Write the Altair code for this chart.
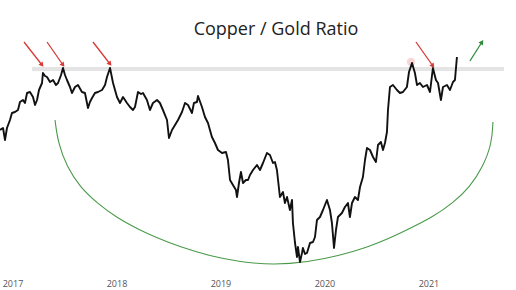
import altair as alt
import pandas as pd

# ---- data (time in decimal years, level in chart units) ----
t = [2017.375, 2017.404, 2017.423, 2017.442, 2017.471, 2017.490, 2017.519, 2017.548, 2017.567, 2017.596,
     2017.615, 2017.635, 2017.663, 2017.692, 2017.712, 2017.731, 2017.750, 2017.779, 2017.788, 2017.808,
     2017.827, 2017.856, 2017.885, 2017.913, 2017.933, 2017.962, 2017.981, 2018.000, 2018.019, 2018.048,
     2018.067, 2018.096, 2018.125, 2018.163, 2018.192, 2018.221, 2018.240, 2018.260, 2018.288, 2018.317,
     2018.356, 2018.385, 2018.404, 2018.433, 2018.462, 2018.500, 2018.529, 2018.558, 2018.596, 2018.625,
     2018.654, 2018.673, 2018.702, 2018.731, 2018.750, 2018.788, 2018.817, 2018.846, 2018.885, 2018.913,
     2018.942, 2018.981, 2019.000, 2019.029, 2019.058, 2019.087, 2019.125, 2019.154, 2019.183, 2019.221,
     2019.240, 2019.269, 2019.279, 2019.317, 2019.346, 2019.375, 2019.413, 2019.442, 2019.471, 2019.510,
     2019.548, 2019.567, 2019.587, 2019.615, 2019.644, 2019.654, 2019.673, 2019.692, 2019.712, 2019.740,
     2019.760, 2019.779, 2019.808, 2019.846, 2019.875, 2019.904, 2019.942, 2019.971, 2020.000, 2020.019,
     2020.038, 2020.067, 2020.096, 2020.115, 2020.135, 2020.163, 2020.183, 2020.192, 2020.212, 2020.231,
     2020.240, 2020.260, 2020.279, 2020.288, 2020.308, 2020.327, 2020.356, 2020.385, 2020.404, 2020.423,
     2020.452, 2020.481, 2020.519, 2020.548, 2020.567, 2020.587, 2020.606, 2020.625, 2020.663, 2020.692,
     2020.721, 2020.740, 2020.760, 2020.788, 2020.817, 2020.837, 2020.865, 2020.885, 2020.904, 2020.933,
     2020.962, 2020.990, 2021.010, 2021.038, 2021.058, 2021.077, 2021.096, 2021.106, 2021.125, 2021.154,
     2021.192, 2021.221, 2021.250, 2021.288, 2021.308, 2021.337, 2021.365, 2021.385, 2021.413, 2021.442,
     2021.481, 2021.510, 2021.538, 2021.567, 2021.587, 2021.615, 2021.635, 2021.673, 2021.702, 2021.731,
     2021.750, 2021.769]
level = [147, 149, 137, 149, 157, 164, 165, 167, 175, 177,
         174, 184, 185, 180, 172, 177, 187, 194, 204, 201,
         200, 195, 197, 192, 194, 202, 209, 202, 197, 190,
         184, 190, 192, 185, 184, 169, 175, 179, 184, 185,
         187, 192, 200, 209, 194, 180, 174, 180, 174, 170,
         167, 170, 185, 183, 184, 177, 167, 174, 177, 174,
         167, 157, 139, 147, 152, 157, 165, 174, 172, 164,
         174, 175, 181, 170, 160, 154, 140, 134, 127, 124,
         125, 117, 97, 92, 87, 80, 94, 105, 94, 97,
         97, 102, 107, 112, 107, 114, 124, 122, 114, 115,
         107, 80, 85, 74, 80, 67, 77, 54, 34, 20,
         30, 15, 24, 29, 23, 24, 34, 35, 40, 57,
         60, 67, 77, 67, 54, 29, 47, 60, 64, 70,
         74, 60, 74, 80, 77, 90, 100, 117, 129, 127,
         120, 115, 132, 135, 127, 134, 145, 167, 190, 192,
         187, 184, 185, 190, 205, 214, 204, 192, 194, 190,
         192, 185, 209, 197, 194, 177, 190, 192, 187, 195,
         197, 220]

# resistance band
band_t = [2017.683]
band_t2 = [2022.221]
band_level = [208]

# rounded-bottom arc
arc_t = [2017.904, 2017.933, 2018.019, 2018.144, 2018.308, 2018.500, 2018.721, 2018.865, 2019.106,
         2019.394, 2019.683, 2020.010, 2020.337, 2020.625, 2020.913, 2021.106, 2021.288, 2021.538,
         2021.731, 2021.894, 2022.019, 2022.106, 2022.115]
arc_level = [157, 134, 110, 90, 74, 59, 47, 40, 30, 21, 15, 12, 15, 21, 30, 38, 47, 60, 74, 90, 110, 134, 155]

# arrows (start -> end)
red_t1 = [2017.606, 2017.827, 2018.269, 2021.375]
red_l1 = [235, 235, 235, 235]
red_t2 = [2017.779, 2017.981, 2018.433, 2021.538]
red_l2 = [212, 212, 213, 211]
green_t1 = [2021.894]
green_l1 = [216]
green_t2 = [2022.010]
green_l2 = [235]

highlight_t = [2021.327]
highlight_l = [215]

years = ["2017", "2018", "2019", "2020", "2021"]
year_mid = [2017.5, 2018.5, 2019.5, 2020.5, 2021.5]
year_starts = [2018, 2019, 2020, 2021, 2022]

title_text = "Copper / Gold Ratio"

# ---- chart ----
xs = alt.Scale(domain=[2017.375, 2022.337], nice=False, zero=False)
ys = alt.Scale(domain=[0, 277], nice=False, zero=False)
FONT = "Open Sans"

df = pd.DataFrame({"t": t, "level": level})
band_df = pd.DataFrame({"t": band_t, "t2": band_t2, "level": band_level})
arc_df = pd.DataFrame({"t": arc_t, "level": arc_level, "i": range(len(arc_t))})
red_df = pd.DataFrame({"t": red_t1, "l": red_l1, "t2": red_t2, "l2": red_l2})
green_df = pd.DataFrame({"t": green_t1, "l": green_l1, "t2": green_t2, "l2": green_l2})
hl_df = pd.DataFrame({"t": highlight_t, "l": highlight_l})
yr_df = pd.DataFrame({"year": years, "t": year_mid})
title_df = pd.DataFrame({"txt": [title_text]})

band = alt.Chart(band_df).mark_rule(color="#e4e4e4", strokeWidth=4).encode(
    x=alt.X("t:Q", scale=xs, axis=None), x2="t2:Q",
    y=alt.Y("level:Q", scale=ys, axis=None))

arc = alt.Chart(arc_df).mark_line(color="#4a9a4a", strokeWidth=1.1, interpolate="basis").encode(
    x=alt.X("t:Q", scale=xs, axis=None),
    y=alt.Y("level:Q", scale=ys, axis=None),
    order="i:Q")

hl = alt.Chart(hl_df).mark_circle(color="#f0b4b4", opacity=0.55, size=70).encode(
    x=alt.X("t:Q", scale=xs, axis=None), y=alt.Y("l:Q", scale=ys, axis=None))

line = alt.Chart(df).mark_line(color="#111111", strokeWidth=1.9, strokeJoin="round").encode(
    x=alt.X("t:Q", scale=xs, title=None,
            axis=alt.Axis(values=year_starts, labels=False, grid=False, tickSize=13,
                          tickColor="#e6e6e6", domainColor="#e6e6e6", tickWidth=1, domainWidth=1)),
    y=alt.Y("level:Q", scale=ys, axis=None))

red_shaft = alt.Chart(red_df).mark_rule(color="#d63a36", strokeWidth=1.3).encode(
    x=alt.X("t:Q", scale=xs, axis=None), x2="t2:Q",
    y=alt.Y("l:Q", scale=ys, axis=None), y2="l2:Q")
red_head = alt.Chart(red_df).mark_point(shape="triangle-up", filled=True, color="#d63a36",
                                         size=28, opacity=1, angle=142).encode(
    x=alt.X("t2:Q", scale=xs, axis=None), y=alt.Y("l2:Q", scale=ys, axis=None))

green_shaft = alt.Chart(green_df).mark_rule(color="#2e8b3a", strokeWidth=1.3).encode(
    x=alt.X("t:Q", scale=xs, axis=None), x2="t2:Q",
    y=alt.Y("l:Q", scale=ys, axis=None), y2="l2:Q")
green_head = alt.Chart(green_df).mark_point(shape="triangle-up", filled=True, color="#2e8b3a",
                                             size=28, opacity=1, angle=34).encode(
    x=alt.X("t2:Q", scale=xs, axis=None), y=alt.Y("l2:Q", scale=ys, axis=None))

yr_labels = alt.Chart(yr_df).mark_text(font=FONT, fontSize=9, color="#555555", baseline="middle").encode(
    x=alt.X("t:Q", scale=xs, axis=None), y=alt.value(284), text="year:N")

title = alt.Chart(title_df).mark_text(font=FONT, fontSize=18, color="#222222", baseline="middle").encode(
    x=alt.value(276), y=alt.value(30), text="txt:N")

chart = alt.layer(band, arc, hl, line, red_shaft, red_head, green_shaft, green_head, yr_labels, title).properties(
    width=516, height=277,
    autosize=alt.AutoSizeParams(type="none"),
    padding={"left": 0, "top": 0, "right": 0, "bottom": 13},
    background="white",
).configure_view(stroke=None)

chart.save("out.html", embed_options={"renderer": "svg", "actions": False})
